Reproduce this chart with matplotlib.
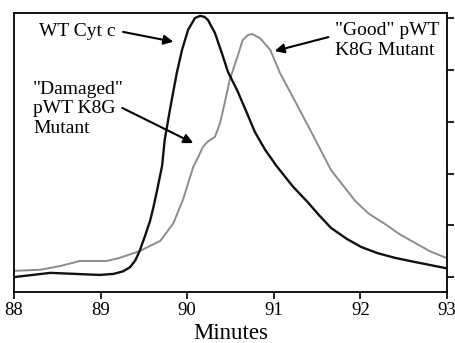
import matplotlib
matplotlib.use("Agg")
import matplotlib.pyplot as plt

# elution time (minutes) and detector signal (arbitrary units)
wt_minutes = [88.01, 88.42, 88.99, 89.15, 89.26, 89.34, 89.40, 89.45, 89.51, 89.57,
              89.61, 89.65, 89.71, 89.74, 89.80, 89.88, 89.94, 90.01, 90.09, 90.15,
              90.20, 90.24, 90.32, 90.40, 90.47, 90.58, 90.69, 90.78, 90.90, 91.03,
              91.22, 91.39, 91.52, 91.66, 91.84, 92.01, 92.20, 92.40, 92.60, 92.78,
              92.99]
wt_signal = [0.0, 0.08, 0.04, 0.06, 0.11, 0.19, 0.32, 0.50, 0.78, 1.08,
             1.35, 1.66, 2.15, 2.65, 3.23, 3.95, 4.39, 4.78, 5.01, 5.05,
             5.03, 4.97, 4.72, 4.33, 3.97, 3.60, 3.17, 2.81, 2.46, 2.15,
             1.75, 1.45, 1.20, 0.95, 0.74, 0.58, 0.46, 0.37, 0.30, 0.24,
             0.17]

k8g_minutes = [88.01, 88.30, 88.53, 88.76, 89.07, 89.22, 89.45, 89.69, 89.84, 89.95,
               90.07, 90.11, 90.18, 90.23, 90.32, 90.38, 90.44, 90.49, 90.58, 90.64,
               90.70, 90.75, 90.84, 90.96, 91.07, 91.22, 91.45, 91.66, 91.94, 92.10,
               92.28, 92.45, 92.63, 92.80, 92.99]
k8g_signal = [0.12, 0.14, 0.21, 0.31, 0.31, 0.37, 0.50, 0.70, 1.04, 1.49,
              2.13, 2.26, 2.51, 2.61, 2.71, 2.98, 3.42, 3.81, 4.26, 4.58,
              4.68, 4.70, 4.62, 4.39, 3.95, 3.48, 2.75, 2.07, 1.47, 1.22,
              1.03, 0.83, 0.66, 0.50, 0.37]

x_ticks = [88, 89, 90, 91, 92, 93]
y_ticks = [0, 1, 2, 3, 4, 5]

serif = ["Liberation Serif", "DejaVu Serif"]

fig = plt.figure(figsize=(4.56, 3.43), dpi=100)
ax = fig.add_axes([0.0307, 0.1487, 0.9496, 0.8134])

ax.plot(k8g_minutes, k8g_signal, color="#8c8c8c", lw=1.4)
ax.plot(wt_minutes, wt_signal, color="#111111", lw=1.7)

ax.set_xlim(88, 93)
ax.set_ylim(-0.29, 5.106)
ax.set_xticks(x_ticks)
ax.set_xticklabels([str(t) for t in x_ticks], family=serif, fontsize=13.5)
ax.yaxis.tick_right()
ax.set_yticks(y_ticks)
ax.set_yticklabels([])
ax.tick_params(axis="x", direction="out", length=5, width=1.2, pad=2)
ax.tick_params(axis="y", direction="out", length=5, width=1.2)
for s in ax.spines.values():
    s.set_linewidth(1.3)
ax.set_xlabel("Minutes", family=serif, fontsize=16.5, labelpad=3)

# annotations
arrow = dict(arrowstyle="-|>", color="black", lw=1.5, mutation_scale=14,
             shrinkA=0, shrinkB=0)
ax.text(88.29, 4.74, "WT Cyt c", family=serif, fontsize=14, ha="left", va="center")
ax.annotate("", xy=(89.84, 4.55), xytext=(89.26, 4.74), arrowprops=arrow)

ax.text(88.22, 3.25, '"Damaged"\npWT K8G\nMutant', family=serif, fontsize=14,
        ha="left", va="center", linespacing=1.2)
ax.annotate("", xy=(90.07, 2.59), xytext=(89.25, 3.27), arrowprops=arrow)

ax.text(91.71, 4.58, '"Good" pWT\nK8G Mutant', family=serif, fontsize=14,
        ha="left", va="center", linespacing=1.25)
ax.annotate("", xy=(91.01, 4.37), xytext=(91.63, 4.64), arrowprops=arrow)

fig.savefig("out.png", dpi=100)
